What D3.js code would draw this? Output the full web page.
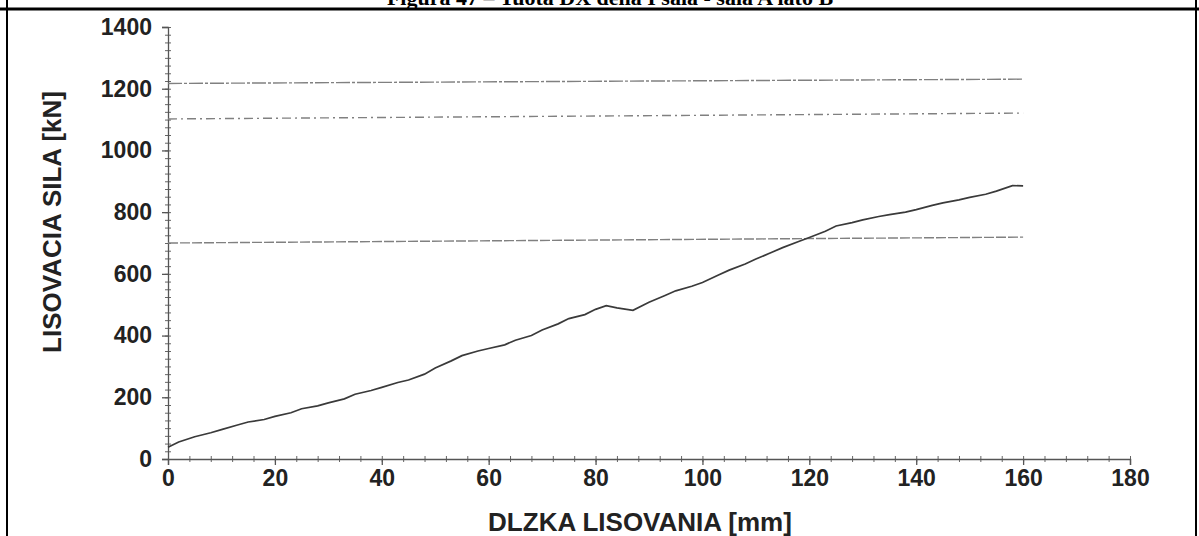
<!DOCTYPE html>
<html>
<head>
<meta charset="utf-8">
<script src="https://cdn.jsdelivr.net/npm/d3@7"></script>
<style>
  body { margin: 0; background: #fff; }
  svg { display: block; }
</style>
</head>
<body>
<script>
// pressing curve
let lengthMm = [0, 2, 5, 8, 10, 13, 15, 18, 20, 23, 25, 28, 30, 33, 35, 38, 40, 43, 45, 48, 50, 53, 55, 58, 60, 63, 65, 68, 70, 73, 75, 78, 80, 82, 84, 87, 90, 93, 95, 98, 100, 103, 105, 108, 110, 113, 115, 118, 120, 123, 125, 128, 130, 133, 135, 138, 140, 143, 145, 148, 150, 153, 155, 158, 160];
let forceKn  = [38, 55, 72, 85, 95, 110, 120, 128, 138, 150, 163, 172, 182, 195, 210, 222, 232, 248, 256, 275, 295, 318, 335, 350, 358, 370, 385, 400, 418, 438, 455, 468, 485, 497, 490, 482, 508, 530, 545, 560, 572, 596, 612, 632, 648, 670, 685, 705, 718, 738, 755, 766, 775, 786, 792, 800, 808, 822, 830, 840, 848, 858, 868, 886, 885];

// limit lines: value at 0 mm and at 160 mm
let limitStart = [1217, 1102, 700];
let limitEnd   = [1231, 1121, 719];
let limitDash  = ["14,2,3,2", "9,4,2,4", "10,2"];

let xTicks = [0, 20, 40, 60, 80, 100, 120, 140, 160, 180];
let yTicks = [0, 200, 400, 600, 800, 1000, 1200, 1400];

let titleText = "Figura 47 – Tuota DX della I sala - sala A lato B";
let xTitle = "DLZKA LISOVANIA [mm]";
let yTitle = "LISOVACIA SILA [kN]";

let W = 1199, H = 536;

let x = d3.scaleLinear().domain([0, 180]).range([168, 1130]);
let y = d3.scaleLinear().domain([0, 1400]).range([459, 27]);

let svg = d3.select("body").append("svg")
    .attr("width", W)
    .attr("height", H);

// page frame of the document
svg.append("line").attr("x1", 0).attr("x2", W).attr("y1", 9).attr("y2", 9)
    .attr("stroke", "#000").attr("stroke-width", 3);
svg.append("line").attr("x1", 7).attr("x2", 7).attr("y1", 0).attr("y2", H)
    .attr("stroke", "#000").attr("stroke-width", 2);
svg.append("line").attr("x1", 1196).attr("x2", 1196).attr("y1", 0).attr("y2", H)
    .attr("stroke", "#000").attr("stroke-width", 2);

// caption, only its lower part shows above the frame line
svg.append("text")
    .attr("x", 610).attr("y", 5)
    .attr("text-anchor", "middle")
    .style("font-family", "'Liberation Serif', 'Times New Roman', serif")
    .style("font-weight", "bold")
    .style("font-size", "22px")
    .text(titleText);

let labelFont = "'Liberation Sans', Arial, sans-serif";

// minor ticks
let yMinor = d3.axisLeft(y).tickValues(d3.range(0, 1401, 25)).tickSize(3).tickFormat("");
let yMinorG = svg.append("g").attr("transform", "translate(168,0)").call(yMinor);
yMinorG.selectAll(".tick line").attr("x2", -3).attr("x1", 3);

let xMinor = d3.axisBottom(x).tickValues(d3.range(0, 181, 4)).tickSize(3).tickFormat("");
let xMinorG = svg.append("g").attr("transform", "translate(0,459)").call(xMinor);
xMinorG.selectAll(".tick line").attr("y1", -3).attr("y2", 3);

[yMinorG, xMinorG].forEach(function (g) {
    g.select(".domain").remove();
    g.selectAll(".tick line").attr("stroke", "#666").attr("stroke-width", 1);
});

// main axes
let yAxis = d3.axisLeft(y).tickValues(yTicks).tickSize(6).tickPadding(10).tickFormat(d3.format("d"));
let xAxis = d3.axisBottom(x).tickValues(xTicks).tickSize(6).tickPadding(4).tickFormat(d3.format("d"));

let yG = svg.append("g").attr("transform", "translate(168,0)").call(yAxis);
let xG = svg.append("g").attr("transform", "translate(0,459)").call(xAxis);

[yG, xG].forEach(function (g) {
    g.select(".domain").attr("stroke", "#555").attr("stroke-width", 1.3);
    g.selectAll(".tick line").attr("stroke", "#555").attr("stroke-width", 1.3);
    g.selectAll(".tick text")
        .attr("fill", "#222")
        .style("font-family", labelFont)
        .style("font-weight", "bold")
        .style("font-size", "23px");
});
xG.selectAll(".tick text").attr("dy", "0.72em");

// limit lines
svg.selectAll("line.limit")
    .data(limitStart)
    .enter().append("line")
    .attr("class", "limit")
    .attr("x1", x(0))
    .attr("x2", x(160))
    .attr("y1", function (d) { return y(d); })
    .attr("y2", function (d, i) { return y(limitEnd[i]); })
    .attr("stroke", "#808080")
    .attr("stroke-width", 1.4)
    .attr("stroke-dasharray", function (d, i) { return limitDash[i]; });

// force curve
let pts = lengthMm.map(function (d, i) { return [d, forceKn[i]]; });
let line = d3.line()
    .x(function (d) { return x(d[0]); })
    .y(function (d) { return y(d[1]); });

svg.append("path")
    .datum(pts)
    .attr("d", line)
    .attr("fill", "none")
    .attr("stroke", "#3a3a3a")
    .attr("stroke-width", 1.7);

// axis titles
svg.append("text")
    .attr("x", 640).attr("y", 531)
    .attr("text-anchor", "middle")
    .attr("fill", "#222")
    .style("font-family", labelFont)
    .style("font-weight", "bold")
    .style("font-size", "26px")
    .text(xTitle);

svg.append("text")
    .attr("transform", "translate(61,222) rotate(-90)")
    .attr("text-anchor", "middle")
    .attr("fill", "#222")
    .style("font-family", labelFont)
    .style("font-weight", "bold")
    .style("font-size", "26px")
    .text(yTitle);
</script>
</body>
</html>
